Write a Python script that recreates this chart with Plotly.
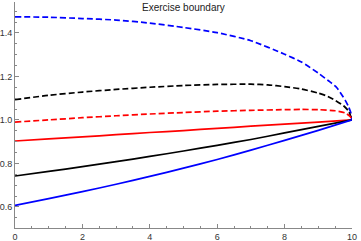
import plotly.graph_objects as go

# time grid and boundary values
t_blue_dash = [0, 1, 2, 3, 4, 5, 6, 7, 8, 8.5, 9, 9.3, 9.55, 9.8, 9.9, 9.97, 10]
blue_dash = [1.474, 1.472, 1.466, 1.459, 1.445, 1.425, 1.401, 1.364, 1.302, 1.266, 1.215, 1.180, 1.148, 1.090, 1.060, 1.030, 1.0]

t_black_dash = [0, 1, 2, 3, 4, 5, 6, 7, 7.5, 8, 8.5, 9, 9.25, 9.5, 9.75, 9.9, 10]
black_dash = [1.093, 1.113, 1.128, 1.140, 1.150, 1.158, 1.163, 1.164, 1.161, 1.153, 1.142, 1.123, 1.110, 1.090, 1.065, 1.040, 1.0]

t_red_dash = [0, 1, 2, 3, 4, 5, 6, 7, 8, 8.5, 9, 9.5, 9.8, 9.95, 10]
red_dash = [0.990, 1.000, 1.010, 1.019, 1.027, 1.034, 1.040, 1.044, 1.047, 1.048, 1.047, 1.042, 1.032, 1.015, 1.0]

t_solid = [0, 1, 2, 3, 4, 5, 6, 7, 8, 9, 10]
red_solid = [0.903, 0.913, 0.922, 0.932, 0.942, 0.951, 0.961, 0.971, 0.981, 0.990, 1.0]
black_solid = [0.742, 0.763, 0.785, 0.808, 0.832, 0.857, 0.883, 0.910, 0.940, 0.970, 1.0]
blue_solid = [0.607, 0.638, 0.670, 0.704, 0.740, 0.778, 0.818, 0.861, 0.906, 0.952, 1.0]

BLUE = "rgb(0,0,255)"
BLACK = "rgb(0,0,0)"
RED = "rgb(255,0,0)"
DASH = "6px,3px"

fig = go.Figure()
series = [
    (t_blue_dash, blue_dash, BLUE, DASH),
    (t_black_dash, black_dash, BLACK, DASH),
    (t_red_dash, red_dash, RED, DASH),
    (t_solid, red_solid, RED, "solid"),
    (t_solid, black_solid, BLACK, "solid"),
    (t_solid, blue_solid, BLUE, "solid"),
]
for x, y, c, d in series:
    fig.add_trace(go.Scatter(x=x, y=y, mode="lines",
                             line=dict(color=c, width=1.7, dash=d, shape="spline", smoothing=0.6),
                             showlegend=False, hoverinfo="skip", cliponaxis=False))

axis_common = dict(
    showgrid=False, zeroline=False, showline=True, linecolor="#888", linewidth=1,
    ticks="inside", ticklen=4, tickcolor="#888", tickwidth=1,
    tickfont=dict(family="Liberation Sans, Arial", size=9, color="#333"),
    automargin=False,
)
fig.update_xaxes(range=[0, 10], tick0=0, dtick=2,
                 minor=dict(ticks="inside", ticklen=2, dtick=0.5, tickcolor="#888"),
                 **axis_common)
fig.update_yaxes(range=[0.503, 1.542], tick0=0, dtick=0.2, tickformat=".1f",
                 minor=dict(ticks="inside", ticklen=2, dtick=0.05, tickcolor="#888"),
                 **axis_common)

fig.add_annotation(text="Exercise boundary", xref="paper", yref="paper", x=0.5, y=1.0,
                   yanchor="top", yshift=2, showarrow=False,
                   font=dict(family="Liberation Sans, Arial", size=10, color="#222"))

fig.update_layout(width=361, height=241, margin=dict(l=15, r=9, t=2, b=13),
                  paper_bgcolor="white", plot_bgcolor="white")
fig.write_html("out.html", config={"displayModeBar": False},
               post_script="document.body.style.margin='0';document.body.style.overflow='hidden';")
